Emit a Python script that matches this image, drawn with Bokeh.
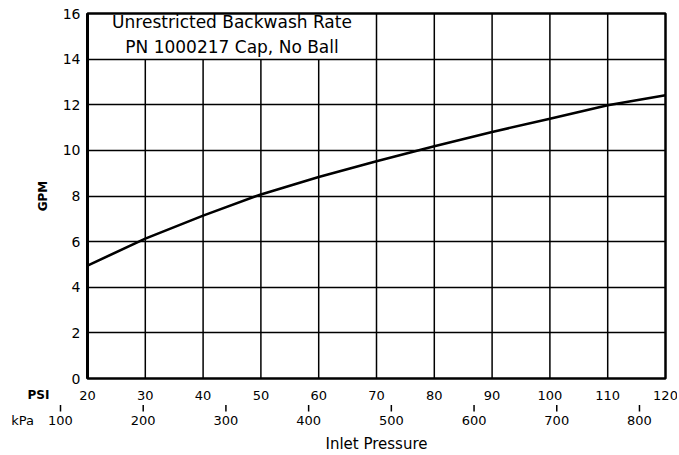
from bokeh.plotting import figure
from bokeh.models import Range1d, FixedTicker, LinearAxis
from bokeh.layouts import column
from bokeh.core.properties import value
from bokeh.embed import file_html
from bokeh.resources import INLINE

FONT = "DejaVu Sans"

# ---- data ----
psi = [20, 30, 40, 50, 60, 70, 80, 90, 100, 110, 120]
gpm = [4.95, 6.13, 7.14, 8.07, 8.83, 9.52, 10.18, 10.81, 11.39, 11.98, 12.42]
psi_ticks = [20, 30, 40, 50, 60, 70, 80, 90, 100, 110, 120]
psi_tick_labels = [str(t) for t in psi_ticks]
gpm_ticks = [0, 2, 4, 6, 8, 10, 12, 14, 16]
kpa_ticks = [100, 200, 300, 400, 500, 600, 700, 800]
title_lines = ["Unrestricted Backwash Rate", "PN 1000217 Cap, No Ball"]
x_title = "Inlet Pressure"
title_box_psi = (20, 70)   # title box spans these PSI columns
title_box_gpm = 14         # bottom of title box

# ---- layout geometry (pixels) ----
W = 671
F_LEFT, F_RIGHT = 87, 665          # frame edges of the main chart
PX_PER_PSI = (F_RIGHT - F_LEFT) / (psi_ticks[-1] - psi_ticks[0])
W2 = 677
P2_LEFT, P2_RIGHT = 8, 677         # frame edges of the scale strip
psi_start2 = psi_ticks[0] - (F_LEFT - P2_LEFT) / PX_PER_PSI
psi_end2 = psi_ticks[-1] + (P2_RIGHT - F_RIGHT) / PX_PER_PSI
# kPa scale as printed on the original chart (100 kPa mark at x=60, 0.827 px per kPa)
KPA_X100, PX_PER_KPA = 60, 0.8271
kpa_range = (100 + (P2_LEFT - KPA_X100) / PX_PER_KPA, 100 + (P2_RIGHT - KPA_X100) / PX_PER_KPA)
kpa_name_pos = 100 + (22 - KPA_X100) / PX_PER_KPA
psi_name_pos = psi_start2 + (38 - P2_LEFT) / PX_PER_PSI
psi_mid = (psi_ticks[0] + psi_ticks[-1]) / 2

# ---- main chart ----
p = figure(width=W, height=386, x_range=Range1d(psi_ticks[0], psi_ticks[-1]),
           y_range=Range1d(gpm_ticks[0], gpm_ticks[-1]),
           output_backend="svg", toolbar_location=None, x_axis_location=None,
           min_border_left=F_LEFT, min_border_right=W - F_RIGHT,
           min_border_top=13, min_border_bottom=8)
p.frame_align = False
p.background_fill_color = "white"
p.border_fill_color = "white"
p.outline_line_color = "black"
p.outline_line_width = 2.5

ya = p.yaxis[0]
ya.ticker = FixedTicker(ticks=gpm_ticks)
ya.major_tick_out = 0
ya.major_tick_in = 0
ya.minor_tick_out = 0
ya.minor_tick_in = 0
ya.axis_line_color = "black"
ya.axis_line_width = 3
ya.major_label_text_font = FONT
ya.major_label_text_color = "black"
ya.major_label_text_font_size = "14px"
ya.major_label_standoff = 7
ya.axis_label = "GPM"
ya.axis_label_text_font = FONT
ya.axis_label_text_font_style = "bold"
ya.axis_label_text_font_size = "12px"
ya.axis_label_standoff = 10
ya.axis_label_text_color = "black"

p.xgrid.visible = False
p.ygrid.ticker = FixedTicker(ticks=gpm_ticks[1:-1])
p.ygrid.grid_line_color = "black"
p.ygrid.grid_line_width = 1.5
p.ygrid.grid_line_alpha = 1

# vertical grid lines, stopping at the title box
vx = psi_ticks[1:-1]
vtop = [title_box_gpm if t < title_box_psi[1] else gpm_ticks[-1] for t in vx]
p.segment(x0=vx, y0=[gpm_ticks[0]] * len(vx), x1=vx, y1=vtop, line_color="black", line_width=1.5)

tx = (title_box_psi[0] + title_box_psi[1]) / 2
p.text(x=[tx, tx], y=[15.63, 14.52], text=title_lines, text_font=value(FONT),
       text_font_size="17px", text_align="center", text_baseline="middle", text_color="black")

p.line(psi, gpm, line_color="black", line_width=2.6)

# ---- scale strip (PSI / kPa) ----
q = figure(width=W2, height=455 - 386, x_range=Range1d(psi_start2, psi_end2),
           y_range=Range1d(0, 24), output_backend="svg", toolbar_location=None,
           x_axis_location=None, y_axis_location=None,
           min_border_left=P2_LEFT, min_border_right=W2 - P2_RIGHT,
           min_border_top=0, min_border_bottom=42)
q.frame_align = False
q.outline_line_color = None
q.grid.visible = False
q.background_fill_color = "white"
q.border_fill_color = "white"
q.extra_x_ranges = {"kpa": Range1d(*kpa_range)}

# PSI row
q.text(x=psi_ticks, y=[16] * len(psi_ticks), text=psi_tick_labels, text_font=value(FONT),
       text_font_size="13px", text_align="center", text_baseline="middle", text_color="black")
q.text(x=[psi_name_pos], y=[16], text=["PSI"], text_font=value(FONT),
       text_font_style="bold", text_font_size="12px", text_align="center",
       text_baseline="middle", text_color="black")
# kPa tick marks
q.segment(x0=kpa_ticks, y0=[1] * len(kpa_ticks), x1=kpa_ticks, y1=[7] * len(kpa_ticks),
          x_range_name="kpa", line_color="black", line_width=1.5)

ka = LinearAxis(x_range_name="kpa")
ka.ticker = FixedTicker(ticks=[kpa_name_pos] + kpa_ticks)
ka.major_label_overrides = {kpa_name_pos: "kPa"}
ka.axis_line_color = None
ka.major_tick_in = 0
ka.major_tick_out = 0
ka.minor_tick_in = 0
ka.minor_tick_out = 0
ka.major_label_standoff = 0
ka.major_label_text_font = FONT
ka.major_label_text_font_size = "13px"
ka.major_label_text_color = "black"
q.add_layout(ka, "below")

# axis title, centred under the chart frame
la = LinearAxis()
la.ticker = FixedTicker(ticks=[psi_mid])
la.major_label_overrides = {psi_mid: x_title}
la.axis_line_color = None
la.major_tick_in = 0
la.major_tick_out = 0
la.minor_tick_in = 0
la.minor_tick_out = 0
la.major_label_standoff = 4
la.major_label_text_font = FONT
la.major_label_text_font_size = "15px"
la.major_label_text_color = "black"
q.add_layout(la, "below")

layout = column(p, q, spacing=0)
open("out.html", "w").write(file_html(layout, INLINE))
